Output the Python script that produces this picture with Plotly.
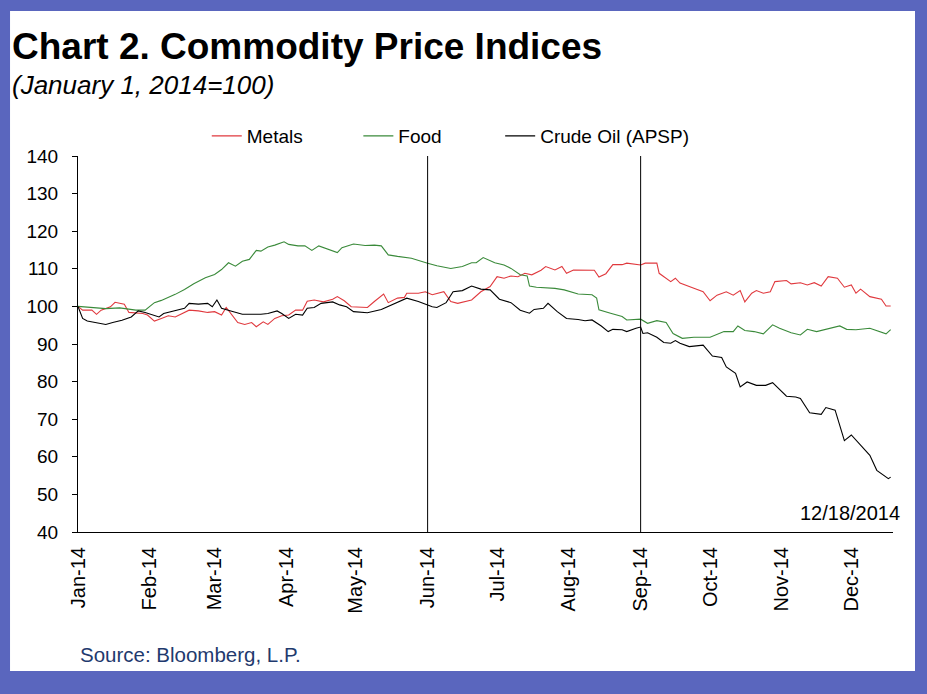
import plotly.graph_objects as go

YEAR = "2014-"

# ---- Data ----
metals_dates = ["01-01", "01-03", "01-07", "01-09", "01-11", "01-15", "01-17", "01-21", "01-23", "01-29", "01-31",
                "02-03", "02-06", "02-09", "02-12", "02-15", "02-18", "02-22", "02-26",
                "03-01", "03-04", "03-06", "03-08", "03-11", "03-14", "03-17", "03-19", "03-22", "03-24", "03-27", "03-30",
                "04-02", "04-05", "04-08", "04-10", "04-13", "04-17", "04-21", "04-23", "04-26", "04-29",
                "05-02", "05-06", "05-09", "05-13", "05-15", "05-19", "05-22", "05-23", "05-28", "05-31",
                "06-03", "06-08", "06-11", "06-14", "06-20", "06-24", "06-28",
                "07-01", "07-04", "07-07", "07-10", "07-13", "07-16", "07-20", "07-22", "07-26", "07-29", "07-31",
                "08-03", "08-08", "08-12", "08-14", "08-17", "08-20", "08-24", "08-26",
                "09-01", "09-03", "09-08", "09-09", "09-14", "09-16", "09-18", "09-24", "09-28",
                "10-01", "10-04", "10-08", "10-11", "10-14", "10-16", "10-19", "10-21", "10-24", "10-27", "10-29",
                "11-03", "11-05", "11-09", "11-12", "11-15", "11-18", "11-21", "11-25", "11-28",
                "12-01", "12-03", "12-05", "12-09", "12-14", "12-16", "12-18"]
metals_values = [100.0, 99.0, 99.0, 97.9, 99.0, 99.9, 101.1, 100.6, 98.4, 98.1, 97.7,
                 96.1, 96.8, 97.5, 97.2, 98.1, 99.0, 98.8, 98.4,
                 98.6, 97.7, 99.7, 98.1, 95.7, 95.2, 95.7, 94.6, 95.9, 95.2, 96.8, 97.5,
                 97.7, 99.0, 99.0, 101.4, 101.7, 101.2, 101.9, 102.6, 101.5, 99.9,
                 99.9, 99.7, 101.3, 103.3, 101.0, 102.2, 102.4, 103.5, 103.5, 103.9,
                 103.1, 103.9, 101.3, 100.8, 101.7, 103.9, 105.3,
                 107.9, 107.5, 108.1, 107.9, 108.8, 108.4, 109.6, 110.6, 109.7, 110.6, 108.8,
                 109.7, 109.6, 109.6, 107.8, 108.7, 111.1, 111.1, 111.5,
                 111.0, 111.5, 111.5, 108.8, 106.6, 107.5, 106.2, 104.8, 103.9,
                 101.5, 103.0, 103.9, 103.0, 104.2, 101.2, 103.5, 104.2, 103.5, 103.9, 106.6,
                 106.9, 106.0, 106.3, 105.7, 106.3, 105.4, 107.9, 107.5, 105.1,
                 105.7, 103.5, 104.6, 102.6, 101.9, 100.1, 100.1]

food_dates = ["01-01", "01-06", "01-13", "01-19", "01-26", "01-30",
              "02-03", "02-06", "02-12", "02-16", "02-20", "02-25",
              "03-01", "03-04", "03-07", "03-10", "03-13", "03-16", "03-19", "03-21", "03-24", "03-27", "03-31",
              "04-02", "04-06", "04-09", "04-12", "04-15", "04-19", "04-23", "04-25", "04-30",
              "05-05", "05-09", "05-12", "05-15", "05-19", "05-25",
              "06-01", "06-05", "06-11", "06-16", "06-20", "06-22", "06-25", "06-30",
              "07-04", "07-07", "07-11", "07-14", "07-15", "07-18", "07-26", "07-30",
              "08-05", "08-11", "08-13", "08-14", "08-19", "08-24", "08-26",
              "09-01", "09-04", "09-08", "09-12", "09-15", "09-19", "09-24",
              "10-01", "10-07", "10-11", "10-13", "10-16", "10-20", "10-24", "10-28", "10-31",
              "11-05", "11-09", "11-12", "11-16", "11-20", "11-26", "11-29",
              "12-03", "12-09", "12-12", "12-16", "12-18"]
food_values = [100.0, 99.8, 99.4, 99.6, 99.0, 99.0,
               101.0, 101.6, 103.2, 104.5, 106.0, 107.6,
               108.5, 109.8, 111.6, 110.7, 112.0, 112.5, 114.9, 114.7, 115.8, 116.3, 117.2,
               116.5, 116.1, 116.1, 114.9, 116.1, 115.2, 114.3, 115.6, 116.6,
               116.2, 116.3, 116.1, 113.7, 113.3, 112.8,
               111.5, 110.8, 110.1, 110.6, 111.6, 111.6, 113.0, 111.6,
               111.0, 110.1, 108.4, 108.1, 105.4, 105.1, 104.8, 104.4,
               103.3, 103.1, 102.2, 99.1, 98.2, 97.3, 96.4,
               96.6, 95.5, 96.2, 95.7, 92.8, 91.5, 91.8,
               91.8, 93.3, 93.3, 94.8, 93.6, 93.3, 92.7, 95.1, 94.2,
               93.0, 92.4, 93.9, 93.3, 93.9, 94.8, 93.9,
               93.8, 94.2, 93.6, 92.7, 93.8]

oil_dates = ["01-01", "01-03", "01-05", "01-08", "01-13", "01-16", "01-20", "01-24", "01-27", "01-30",
             "02-02", "02-05", "02-07", "02-12", "02-16", "02-18", "02-22", "02-26", "02-28",
             "03-02", "03-04", "03-08", "03-13", "03-17", "03-21", "03-24", "03-28", "03-30",
             "04-02", "04-05", "04-08", "04-10", "04-13", "04-16", "04-21", "04-24", "04-27", "04-30",
             "05-06", "05-12", "05-18", "05-23", "05-28",
             "06-03", "06-05", "06-09", "06-12", "06-16", "06-20", "06-24", "06-28",
             "07-02", "07-07", "07-11", "07-15", "07-17", "07-21", "07-23", "07-27", "07-31",
             "08-05", "08-08", "08-11", "08-15", "08-18", "08-20", "08-24", "08-26", "08-30",
             "09-01", "09-02", "09-04", "09-08", "09-11", "09-14", "09-16", "09-18", "09-22", "09-28",
             "10-02", "10-06", "10-08", "10-12", "10-14", "10-17", "10-21", "10-25", "10-28",
             "11-03", "11-07", "11-09", "11-13", "11-18", "11-20", "11-24", "11-28",
             "12-01", "12-05", "12-09", "12-12", "12-15", "12-17", "12-18"]
oil_values = [100.0, 96.8, 96.1, 95.7, 95.2, 95.7, 96.3, 97.2, 98.8, 98.4,
              97.7, 97.2, 98.1, 98.8, 99.5, 100.8, 100.6, 100.8, 99.9,
              101.7, 99.5, 98.8, 97.9, 97.9, 97.9, 98.1, 98.8, 98.1,
              96.8, 97.9, 97.7, 99.5, 99.7, 100.8, 101.2, 100.4, 99.9, 98.6,
              98.3, 99.2, 100.8, 102.2, 101.3,
              99.9, 99.7, 101.0, 103.9, 104.2, 105.4, 104.6, 104.4,
              101.9, 101.0, 99.0, 98.2, 99.2, 99.5, 100.8, 98.6, 96.8,
              96.5, 96.2, 96.4, 94.8, 93.3, 93.9, 93.8, 93.3, 94.2,
              94.5, 92.8, 93.0, 91.8, 90.4, 90.2, 90.9, 90.2, 89.3, 89.7,
              86.8, 86.4, 83.9, 82.2, 78.6, 79.9, 79.0, 79.0, 79.7,
              76.1, 75.9, 75.5, 71.7, 71.3, 73.1, 72.4, 64.3,
              65.8, 63.1, 60.4, 56.4, 55.1, 54.2, 54.6]

month_ticks = ["01-01", "02-01", "03-01", "04-01", "05-01", "06-01",
               "07-01", "08-01", "09-01", "10-01", "11-01", "12-01"]
month_labels = ["Jan-14", "Feb-14", "Mar-14", "Apr-14", "May-14", "Jun-14",
                "Jul-14", "Aug-14", "Sep-14", "Oct-14", "Nov-14", "Dec-14"]
marker_dates = ["06-01", "09-01"]
y_ticks = [40, 50, 60, 70, 80, 90, 100, 110, 120, 130, 140]

series = [
    ("Metals", metals_dates, metals_values, "#E0393E", "legend", 0.158),
    ("Food", food_dates, food_values, "#3A8A3A", "legend2", 0.344),
    ("Crude Oil (APSP)", oil_dates, oil_values, "#000000", "legend3", 0.518),
]

FONT = "Liberation Sans, Arial, sans-serif"
BORDER = "#5A66BE"

fig = go.Figure()
legends = {}
for name, d, v, c, lg, lx in series:
    fig.add_trace(go.Scatter(x=[YEAR + s for s in d], y=v, mode="lines", name=name,
                             line=dict(color=c, width=1.1), legend=lg))
    legends[lg] = dict(orientation="h", x=lx, y=1.053, xanchor="left", yanchor="middle",
                       bgcolor="rgba(0,0,0,0)", font=dict(size=19, family=FONT, color="black"),
                       itemwidth=30)

# inner white panel on blue frame
fig.add_shape(type="rect", xref="paper", yref="paper", x0=-0.0834, x1=1.027,
              y0=-0.3697, y1=1.3856, fillcolor="white", line=dict(width=0), layer="below")

for m in marker_dates:
    fig.add_shape(type="line", xref="x", yref="y", x0=YEAR + m, x1=YEAR + m, y0=40, y1=140,
                  line=dict(color="black", width=1))

fig.add_annotation(text="<b>Chart 2. Commodity Price Indices</b>", xref="paper", yref="paper",
                   x=-0.0835, y=1.29, xanchor="left", yanchor="middle", showarrow=False,
                   font=dict(family=FONT, size=37, color="black"))
fig.add_annotation(text="<i>(January 1, 2014=100)</i>", xref="paper", yref="paper",
                   x=-0.0835, y=1.189, xanchor="left", yanchor="middle", showarrow=False,
                   font=dict(family=FONT, size=26, color="black"))
fig.add_annotation(text="12/18/2014", xref="paper", yref="paper",
                   x=1.011, y=0.05, xanchor="right", yanchor="middle", showarrow=False,
                   font=dict(family=FONT, size=20, color="black"))
fig.add_annotation(text="Source: Bloomberg, L.P.", xref="paper", yref="paper",
                   x=0.0, y=-0.3245, xanchor="left", yanchor="middle", showarrow=False,
                   font=dict(family=FONT, size=20.5, color="#1F3A6E"))

fig.update_layout(
    width=927, height=694,
    paper_bgcolor=BORDER, plot_bgcolor="white",
    margin=dict(l=78, r=34, t=156, b=162),
    font=dict(family=FONT, size=19, color="black"),
    showlegend=True,
    xaxis=dict(type="date", range=["2014-01-01", "2014-12-19"],
               tickvals=[YEAR + s for s in month_ticks], ticktext=month_labels,
               tickangle=-90, ticks="", showgrid=False, zeroline=False,
               showline=True, linecolor="black", linewidth=1,
               tickfont=dict(size=20), ticklabelstandoff=6),
    yaxis=dict(range=[40, 140], tickvals=y_ticks, ticks="outside", ticklen=5,
               tickcolor="black", showgrid=False, zeroline=False,
               showline=True, linecolor="black", linewidth=1,
               tickfont=dict(size=19), ticklabelstandoff=10),
    **legends,
)

fig.write_html("out.html", config={"displayModeBar": False},
               post_script="document.body.style.margin='0';")
